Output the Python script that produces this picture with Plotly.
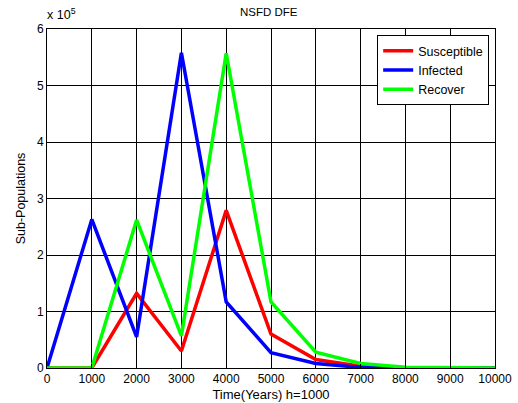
import plotly.graph_objects as go

time_years = [0, 1000, 2000, 3000, 4000, 5000, 6000, 7000, 8000, 9000, 10000]
susceptible = [0, 0, 1.32e5, 0.30e5, 2.79e5, 0.60e5, 0.15e5, 0.03e5, 0.003e5, 0, 0]
infected = [0, 2.63e5, 0.55e5, 5.58e5, 1.17e5, 0.27e5, 0.08e5, 0.01e5, 0, 0, 0]
recover = [0, 0, 2.62e5, 0.57e5, 5.57e5, 1.17e5, 0.28e5, 0.08e5, 0.015e5, 0, 0]

x_ticks = [0, 1000, 2000, 3000, 4000, 5000, 6000, 7000, 8000, 9000, 10000]
y_ticks = [0, 1e5, 2e5, 3e5, 4e5, 5e5, 6e5]
y_tick_labels = ["0", "1", "2", "3", "4", "5", "6"]

FONT = "Liberation Sans, Arial, sans-serif"

fig = go.Figure()
for name, vals, color in [("Susceptible", susceptible, "#ff0000"),
                          ("Infected", infected, "#0000ff"),
                          ("Recover", recover, "#00ff00")]:
    fig.add_trace(go.Scatter(x=time_years, y=vals, mode="lines", name=name,
                             line=dict(color=color, width=3.5)))

fig.update_layout(
    width=518, height=403,
    margin=dict(l=47, r=23, t=29, b=35),
    paper_bgcolor="white", plot_bgcolor="white",
    font=dict(family=FONT, size=12, color="black"),
    showlegend=True,
    legend=dict(x=0.987, y=0.982, xanchor="right", yanchor="top",
                bgcolor="white", bordercolor="black", borderwidth=1,
                font=dict(size=12.5), tracegroupgap=0),
    annotations=[
        dict(text="NSFD DFE", x=0.495, y=1, xref="paper", yref="paper",
             xanchor="center", yanchor="bottom", yshift=9, showarrow=False,
             font=dict(size=11.5)),
        dict(text="x 10<sup>5</sup>", x=0, y=1, xref="paper", yref="paper",
             xanchor="left", yanchor="bottom", yshift=5, xshift=-2, showarrow=False,
             font=dict(size=12.5)),
    ],
)
fig.update_xaxes(range=[0, 10000], tickvals=x_ticks, ticktext=[str(v) for v in x_ticks],
                 showgrid=True, gridcolor="black", gridwidth=1, automargin=False,
                 showline=True, linecolor="black", linewidth=1, mirror="ticks",
                 ticks="inside", ticklen=4, tickcolor="black", zeroline=False,
                 title=dict(text="Time(Years) h=1000", standoff=4, font=dict(size=13)))
fig.update_yaxes(range=[0, 6e5], tickvals=y_ticks, ticktext=y_tick_labels,
                 showgrid=True, gridcolor="black", gridwidth=1, automargin=False,
                 showline=True, linecolor="black", linewidth=1, mirror="ticks",
                 ticks="inside", ticklen=4, tickcolor="black", zeroline=False,
                 title=dict(text="Sub-Populations", standoff=8, font=dict(size=12.5)))

fig.write_html("out.html", config={"displayModeBar": False},
               post_script="document.body.style.margin='0';document.body.style.padding='0';")
